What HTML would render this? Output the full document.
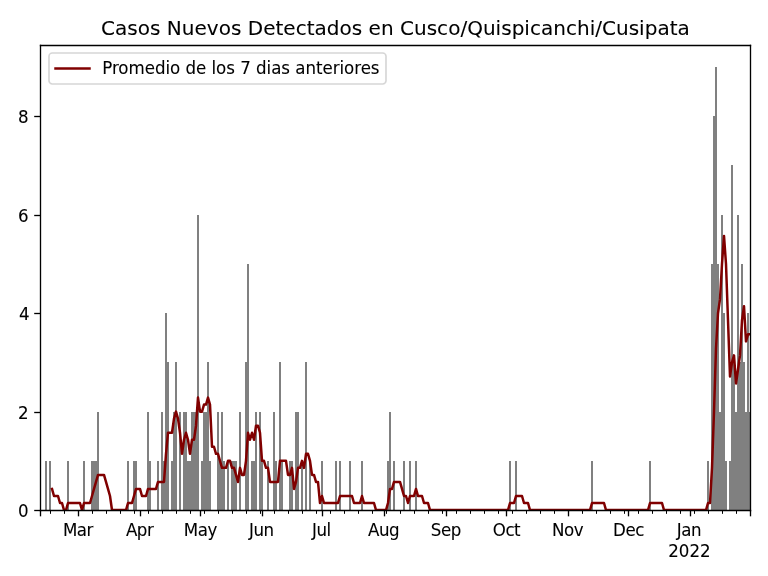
<!DOCTYPE html>
<html lang="es"><head><meta charset="utf-8"><title>Casos Nuevos Detectados en Cusco/Quispicanchi/Cusipata</title>
<style>
html,body{margin:0;padding:0;background:#fff;}
body{width:768px;height:576px;overflow:hidden;}
svg{display:block;}
text{font-family:"DejaVu Sans","Liberation Sans",sans-serif;font-size:16.667px;fill:#000;stroke:#000;stroke-width:0.08px;}
.title{font-size:20px;letter-spacing:0.024px;}
</style></head><body>
<svg width="768" height="576" viewBox="0 0 768 576">
<rect width="768" height="576" fill="#fff"/>
<defs><clipPath id="ax"><rect x="40.5" y="45.5" width="710.0" height="465.0"/></clipPath></defs>
<g clip-path="url(#ax)">
<g fill="#808080" shape-rendering="crispEdges"><rect x="39" y="461" width="2" height="49"/><rect x="45" y="461" width="2" height="49"/><rect x="49" y="461" width="2" height="49"/><rect x="67" y="461" width="2" height="49"/><rect x="83" y="461" width="2" height="49"/><rect x="91" y="461" width="6" height="49"/><rect x="97" y="412" width="2" height="98"/><rect x="127" y="461" width="2" height="49"/><rect x="133" y="461" width="4" height="49"/><rect x="147" y="412" width="2" height="98"/><rect x="149" y="461" width="2" height="49"/><rect x="157" y="461" width="2" height="49"/><rect x="161" y="412" width="2" height="98"/><rect x="163" y="461" width="2" height="49"/><rect x="165" y="313" width="2" height="197"/><rect x="167" y="362" width="2" height="148"/><rect x="171" y="461" width="2" height="49"/><rect x="173" y="412" width="2" height="98"/><rect x="175" y="362" width="2" height="148"/><rect x="179" y="412" width="2" height="98"/><rect x="183" y="412" width="4" height="98"/><rect x="187" y="461" width="4" height="49"/><rect x="191" y="412" width="6" height="98"/><rect x="197" y="215" width="2" height="295"/><rect x="201" y="461" width="2" height="49"/><rect x="203" y="412" width="4" height="98"/><rect x="207" y="362" width="2" height="148"/><rect x="209" y="461" width="2" height="49"/><rect x="217" y="412" width="2" height="98"/><rect x="219" y="461" width="2" height="49"/><rect x="221" y="412" width="2" height="98"/><rect x="223" y="461" width="2" height="49"/><rect x="227" y="461" width="2" height="49"/><rect x="231" y="461" width="6" height="49"/><rect x="239" y="412" width="2" height="98"/><rect x="245" y="362" width="2" height="148"/><rect x="247" y="264" width="2" height="246"/><rect x="251" y="461" width="4" height="49"/><rect x="255" y="412" width="2" height="98"/><rect x="259" y="412" width="2" height="98"/><rect x="261" y="461" width="2" height="49"/><rect x="267" y="461" width="2" height="49"/><rect x="273" y="412" width="2" height="98"/><rect x="275" y="461" width="2" height="49"/><rect x="279" y="362" width="2" height="148"/><rect x="281" y="461" width="2" height="49"/><rect x="289" y="461" width="4" height="49"/><rect x="295" y="412" width="4" height="98"/><rect x="301" y="461" width="2" height="49"/><rect x="305" y="362" width="2" height="148"/><rect x="309" y="461" width="2" height="49"/><rect x="321" y="461" width="2" height="49"/><rect x="335" y="461" width="2" height="49"/><rect x="339" y="461" width="2" height="49"/><rect x="349" y="461" width="2" height="49"/><rect x="361" y="461" width="2" height="49"/><rect x="387" y="461" width="2" height="49"/><rect x="389" y="412" width="2" height="98"/><rect x="393" y="461" width="2" height="49"/><rect x="403" y="461" width="2" height="49"/><rect x="409" y="461" width="2" height="49"/><rect x="415" y="461" width="2" height="49"/><rect x="509" y="461" width="2" height="49"/><rect x="515" y="461" width="2" height="49"/><rect x="591" y="461" width="2" height="49"/><rect x="649" y="461" width="2" height="49"/><rect x="707" y="461" width="2" height="49"/><rect x="711" y="264" width="2" height="246"/><rect x="713" y="116" width="2" height="394"/><rect x="715" y="67" width="2" height="443"/><rect x="717" y="264" width="2" height="246"/><rect x="719" y="412" width="2" height="98"/><rect x="721" y="215" width="2" height="295"/><rect x="723" y="313" width="2" height="197"/><rect x="725" y="461" width="2" height="49"/><rect x="729" y="461" width="2" height="49"/><rect x="731" y="165" width="2" height="345"/><rect x="733" y="362" width="2" height="148"/><rect x="735" y="412" width="2" height="98"/><rect x="737" y="215" width="2" height="295"/><rect x="739" y="362" width="2" height="148"/><rect x="741" y="264" width="2" height="246"/><rect x="743" y="362" width="2" height="148"/><rect x="745" y="412" width="2" height="98"/><rect x="747" y="313" width="2" height="197"/><rect x="749" y="412" width="2" height="98"/></g>
<polyline points="52.00,488.96 54.00,495.99 56.00,495.99 58.00,495.99 60.00,503.02 62.00,503.02 64.00,510.05 66.00,510.05 68.00,503.02 70.00,503.02 72.00,503.02 74.00,503.02 76.00,503.02 78.00,503.02 80.00,503.02 82.00,510.05 84.00,503.02 86.00,503.02 88.00,503.02 90.00,503.02 92.00,495.99 94.00,488.96 96.00,481.93 98.00,474.90 100.00,474.90 102.00,474.90 104.00,474.90 106.00,481.93 108.00,488.96 110.00,495.99 112.00,510.05 114.00,510.05 116.00,510.05 118.00,510.05 120.00,510.05 122.00,510.05 124.00,510.05 126.00,510.05 128.00,503.02 130.00,503.02 132.00,503.02 134.00,495.99 136.00,488.96 138.00,488.96 140.00,488.96 142.00,495.99 144.00,495.99 146.00,495.99 148.00,488.96 150.00,488.96 152.00,488.96 154.00,488.96 156.00,488.96 158.00,481.93 160.00,481.93 162.00,481.93 164.00,481.93 166.00,453.81 168.00,432.73 170.00,432.73 172.00,432.73 174.00,418.67 176.00,411.64 178.00,418.67 180.00,432.73 182.00,453.81 184.00,439.76 186.00,432.73 188.00,439.76 190.00,453.81 192.00,439.76 194.00,439.76 196.00,425.70 198.00,397.58 200.00,411.64 202.00,411.64 204.00,404.61 206.00,404.61 208.00,397.58 210.00,404.61 212.00,446.78 214.00,446.78 216.00,453.81 218.00,453.81 220.00,460.84 222.00,467.87 224.00,467.87 226.00,467.87 228.00,460.84 230.00,460.84 232.00,467.87 234.00,467.87 236.00,474.90 238.00,481.93 240.00,467.87 242.00,474.90 244.00,474.90 246.00,460.84 248.00,432.73 250.00,439.76 252.00,432.73 254.00,439.76 256.00,425.70 258.00,425.70 260.00,432.73 262.00,460.84 264.00,460.84 266.00,467.87 268.00,467.87 270.00,481.93 272.00,481.93 274.00,481.93 276.00,481.93 278.00,481.93 280.00,460.84 282.00,460.84 284.00,460.84 286.00,460.84 288.00,474.90 290.00,474.90 292.00,467.87 294.00,488.96 296.00,481.93 298.00,467.87 300.00,467.87 302.00,460.84 304.00,467.87 306.00,453.81 308.00,453.81 310.00,460.84 312.00,474.90 314.00,474.90 316.00,481.93 318.00,481.93 320.00,503.02 322.00,495.99 324.00,503.02 326.00,503.02 328.00,503.02 330.00,503.02 332.00,503.02 334.00,503.02 336.00,503.02 338.00,503.02 340.00,495.99 342.00,495.99 344.00,495.99 346.00,495.99 348.00,495.99 350.00,495.99 352.00,495.99 354.00,503.02 356.00,503.02 358.00,503.02 360.00,503.02 362.00,495.99 364.00,503.02 366.00,503.02 368.00,503.02 370.00,503.02 372.00,503.02 374.00,503.02 376.00,510.05 378.00,510.05 380.00,510.05 382.00,510.05 384.00,510.05 386.00,510.05 388.00,503.02 390.00,488.96 392.00,488.96 394.00,481.93 396.00,481.93 398.00,481.93 400.00,481.93 402.00,488.96 404.00,495.99 406.00,495.99 408.00,503.02 410.00,495.99 412.00,495.99 414.00,495.99 416.00,488.96 418.00,495.99 420.00,495.99 422.00,495.99 424.00,503.02 426.00,503.02 428.00,503.02 430.00,510.05 432.00,510.05 434.00,510.05 436.00,510.05 438.00,510.05 440.00,510.05 442.00,510.05 444.00,510.05 446.00,510.05 448.00,510.05 450.00,510.05 452.00,510.05 454.00,510.05 456.00,510.05 458.00,510.05 460.00,510.05 462.00,510.05 464.00,510.05 466.00,510.05 468.00,510.05 470.00,510.05 472.00,510.05 474.00,510.05 476.00,510.05 478.00,510.05 480.00,510.05 482.00,510.05 484.00,510.05 486.00,510.05 488.00,510.05 490.00,510.05 492.00,510.05 494.00,510.05 496.00,510.05 498.00,510.05 500.00,510.05 502.00,510.05 504.00,510.05 506.00,510.05 508.00,510.05 510.00,503.02 512.00,503.02 514.00,503.02 516.00,495.99 518.00,495.99 520.00,495.99 522.00,495.99 524.00,503.02 526.00,503.02 528.00,503.02 530.00,510.05 532.00,510.05 534.00,510.05 536.00,510.05 538.00,510.05 540.00,510.05 542.00,510.05 544.00,510.05 546.00,510.05 548.00,510.05 550.00,510.05 552.00,510.05 554.00,510.05 556.00,510.05 558.00,510.05 560.00,510.05 562.00,510.05 564.00,510.05 566.00,510.05 568.00,510.05 570.00,510.05 572.00,510.05 574.00,510.05 576.00,510.05 578.00,510.05 580.00,510.05 582.00,510.05 584.00,510.05 586.00,510.05 588.00,510.05 590.00,510.05 592.00,503.02 594.00,503.02 596.00,503.02 598.00,503.02 600.00,503.02 602.00,503.02 604.00,503.02 606.00,510.05 608.00,510.05 610.00,510.05 612.00,510.05 614.00,510.05 616.00,510.05 618.00,510.05 620.00,510.05 622.00,510.05 624.00,510.05 626.00,510.05 628.00,510.05 630.00,510.05 632.00,510.05 634.00,510.05 636.00,510.05 638.00,510.05 640.00,510.05 642.00,510.05 644.00,510.05 646.00,510.05 648.00,510.05 650.00,503.02 652.00,503.02 654.00,503.02 656.00,503.02 658.00,503.02 660.00,503.02 662.00,503.02 664.00,510.05 666.00,510.05 668.00,510.05 670.00,510.05 672.00,510.05 674.00,510.05 676.00,510.05 678.00,510.05 680.00,510.05 682.00,510.05 684.00,510.05 686.00,510.05 688.00,510.05 690.00,510.05 692.00,510.05 694.00,510.05 696.00,510.05 698.00,510.05 700.00,510.05 702.00,510.05 704.00,510.05 706.00,510.05 708.00,503.02 710.00,503.02 712.00,467.87 714.00,411.64 716.00,348.37 718.00,313.22 720.00,299.17 722.00,264.02 724.00,235.90 726.00,264.02 728.00,320.25 730.00,376.49 732.00,362.43 734.00,355.40 736.00,383.52 738.00,369.46 740.00,355.40 742.00,320.25 744.00,306.20 746.00,341.34 748.00,334.31 750.00,334.31" fill="none" stroke="#800000" stroke-width="2.5" stroke-linejoin="round" stroke-linecap="square"/>
</g>
<g stroke="#000" fill="none"><line x1="40.5" y1="510.5" x2="40.5" y2="516.33" stroke-width="1.333"/><line x1="78.5" y1="510.5" x2="78.5" y2="516.33" stroke-width="1.333"/><line x1="140.5" y1="510.5" x2="140.5" y2="516.33" stroke-width="1.333"/><line x1="200.5" y1="510.5" x2="200.5" y2="516.33" stroke-width="1.333"/><line x1="262.5" y1="510.5" x2="262.5" y2="516.33" stroke-width="1.333"/><line x1="322.5" y1="510.5" x2="322.5" y2="516.33" stroke-width="1.333"/><line x1="384.5" y1="510.5" x2="384.5" y2="516.33" stroke-width="1.333"/><line x1="446.5" y1="510.5" x2="446.5" y2="516.33" stroke-width="1.333"/><line x1="506.5" y1="510.5" x2="506.5" y2="516.33" stroke-width="1.333"/><line x1="568.5" y1="510.5" x2="568.5" y2="516.33" stroke-width="1.333"/><line x1="628.5" y1="510.5" x2="628.5" y2="516.33" stroke-width="1.333"/><line x1="690.5" y1="510.5" x2="690.5" y2="516.33" stroke-width="1.333"/><line x1="750.5" y1="510.5" x2="750.5" y2="516.33" stroke-width="1.333"/><line x1="50.5" y1="510.5" x2="50.5" y2="513.83" stroke-width="1"/><line x1="64.5" y1="510.5" x2="64.5" y2="513.83" stroke-width="1"/><line x1="92.5" y1="510.5" x2="92.5" y2="513.83" stroke-width="1"/><line x1="106.5" y1="510.5" x2="106.5" y2="513.83" stroke-width="1"/><line x1="120.5" y1="510.5" x2="120.5" y2="513.83" stroke-width="1"/><line x1="134.5" y1="510.5" x2="134.5" y2="513.83" stroke-width="1"/><line x1="148.5" y1="510.5" x2="148.5" y2="513.83" stroke-width="1"/><line x1="162.5" y1="510.5" x2="162.5" y2="513.83" stroke-width="1"/><line x1="176.5" y1="510.5" x2="176.5" y2="513.83" stroke-width="1"/><line x1="190.5" y1="510.5" x2="190.5" y2="513.83" stroke-width="1"/><line x1="204.5" y1="510.5" x2="204.5" y2="513.83" stroke-width="1"/><line x1="218.5" y1="510.5" x2="218.5" y2="513.83" stroke-width="1"/><line x1="232.5" y1="510.5" x2="232.5" y2="513.83" stroke-width="1"/><line x1="246.5" y1="510.5" x2="246.5" y2="513.83" stroke-width="1"/><line x1="260.5" y1="510.5" x2="260.5" y2="513.83" stroke-width="1"/><line x1="274.5" y1="510.5" x2="274.5" y2="513.83" stroke-width="1"/><line x1="288.5" y1="510.5" x2="288.5" y2="513.83" stroke-width="1"/><line x1="302.5" y1="510.5" x2="302.5" y2="513.83" stroke-width="1"/><line x1="316.5" y1="510.5" x2="316.5" y2="513.83" stroke-width="1"/><line x1="330.5" y1="510.5" x2="330.5" y2="513.83" stroke-width="1"/><line x1="344.5" y1="510.5" x2="344.5" y2="513.83" stroke-width="1"/><line x1="358.5" y1="510.5" x2="358.5" y2="513.83" stroke-width="1"/><line x1="372.5" y1="510.5" x2="372.5" y2="513.83" stroke-width="1"/><line x1="386.5" y1="510.5" x2="386.5" y2="513.83" stroke-width="1"/><line x1="400.5" y1="510.5" x2="400.5" y2="513.83" stroke-width="1"/><line x1="414.5" y1="510.5" x2="414.5" y2="513.83" stroke-width="1"/><line x1="428.5" y1="510.5" x2="428.5" y2="513.83" stroke-width="1"/><line x1="442.5" y1="510.5" x2="442.5" y2="513.83" stroke-width="1"/><line x1="456.5" y1="510.5" x2="456.5" y2="513.83" stroke-width="1"/><line x1="470.5" y1="510.5" x2="470.5" y2="513.83" stroke-width="1"/><line x1="484.5" y1="510.5" x2="484.5" y2="513.83" stroke-width="1"/><line x1="498.5" y1="510.5" x2="498.5" y2="513.83" stroke-width="1"/><line x1="512.5" y1="510.5" x2="512.5" y2="513.83" stroke-width="1"/><line x1="526.5" y1="510.5" x2="526.5" y2="513.83" stroke-width="1"/><line x1="540.5" y1="510.5" x2="540.5" y2="513.83" stroke-width="1"/><line x1="554.5" y1="510.5" x2="554.5" y2="513.83" stroke-width="1"/><line x1="582.5" y1="510.5" x2="582.5" y2="513.83" stroke-width="1"/><line x1="596.5" y1="510.5" x2="596.5" y2="513.83" stroke-width="1"/><line x1="610.5" y1="510.5" x2="610.5" y2="513.83" stroke-width="1"/><line x1="624.5" y1="510.5" x2="624.5" y2="513.83" stroke-width="1"/><line x1="638.5" y1="510.5" x2="638.5" y2="513.83" stroke-width="1"/><line x1="652.5" y1="510.5" x2="652.5" y2="513.83" stroke-width="1"/><line x1="666.5" y1="510.5" x2="666.5" y2="513.83" stroke-width="1"/><line x1="680.5" y1="510.5" x2="680.5" y2="513.83" stroke-width="1"/><line x1="694.5" y1="510.5" x2="694.5" y2="513.83" stroke-width="1"/><line x1="708.5" y1="510.5" x2="708.5" y2="513.83" stroke-width="1"/><line x1="722.5" y1="510.5" x2="722.5" y2="513.83" stroke-width="1"/><line x1="736.5" y1="510.5" x2="736.5" y2="513.83" stroke-width="1"/><line x1="40.5" y1="510.5" x2="34.2" y2="510.5" stroke-width="1.333"/><line x1="40.5" y1="412.5" x2="34.2" y2="412.5" stroke-width="1.333"/><line x1="40.5" y1="313.5" x2="34.2" y2="313.5" stroke-width="1.333"/><line x1="40.5" y1="215.5" x2="34.2" y2="215.5" stroke-width="1.333"/><line x1="40.5" y1="116.5" x2="34.2" y2="116.5" stroke-width="1.333"/></g>
<g stroke="#000" stroke-width="1.333" fill="none" stroke-linecap="square">
<line x1="40.5" y1="45.5" x2="40.5" y2="510.5"/><line x1="750.5" y1="45.5" x2="750.5" y2="510.5"/>
<line x1="40.5" y1="510.5" x2="750.5" y2="510.5"/><line x1="40.5" y1="45.5" x2="750.5" y2="45.5"/>
</g>
<g><text transform="matrix(1 0 0 1.0833 28.60 517.30)" text-anchor="end">0</text><text transform="matrix(1 0 0 1.0833 28.60 418.89)" text-anchor="end">2</text><text transform="matrix(1 0 0 1.0833 29.50 320.47)" text-anchor="end">4</text><text transform="matrix(1 0 0 1.0833 28.50 222.06)" text-anchor="end">6</text><text transform="matrix(1 0 0 1.0833 28.60 122.65)" text-anchor="end">8</text></g>
<g><text transform="matrix(1 0 0 1.0833 77.93 536.00)" text-anchor="middle" style="letter-spacing:-0.45px">Mar</text><text transform="matrix(1 0 0 1.0833 139.66 536.00)" text-anchor="middle" style="letter-spacing:-0.45px">Apr</text><text transform="matrix(1 0 0 1.0833 200.37 536.00)" text-anchor="middle" style="letter-spacing:-0.45px">May</text><text transform="matrix(1 0 0 1.0833 261.37 536.00)" text-anchor="middle" style="letter-spacing:-0.45px">Jun</text><text transform="matrix(1 0 0 1.0833 321.35 536.00)" text-anchor="middle" style="letter-spacing:-0.45px">Jul</text><text transform="matrix(1 0 0 1.0833 383.55 536.00)" text-anchor="middle" style="letter-spacing:-0.45px">Aug</text><text transform="matrix(1 0 0 1.0833 445.80 536.00)" text-anchor="middle" style="letter-spacing:-0.45px">Sep</text><text transform="matrix(1 0 0 1.0833 506.45 536.00)" text-anchor="middle" style="letter-spacing:-0.45px">Oct</text><text transform="matrix(1 0 0 1.0833 567.62 536.00)" text-anchor="middle" style="letter-spacing:-0.45px">Nov</text><text transform="matrix(1 0 0 1.0833 628.49 536.00)" text-anchor="middle" style="letter-spacing:-0.45px">Dec</text><text transform="matrix(1 0 0 1.0833 689.00 536.00)" text-anchor="middle" style="letter-spacing:-0.45px">Jan</text><text transform="matrix(1 0 0 1.0833 689.46 557.00)" text-anchor="middle">2022</text></g>
<text class="title" transform="matrix(1 0 0 1.0005 395.4 35.3)" text-anchor="middle">Casos Nuevos Detectados en Cusco/Quispicanchi/Cusipata</text>
<rect x="49" y="53" width="337" height="31" rx="3.33" ry="3.33" fill="#fff" fill-opacity="0.8" stroke="#ccc" stroke-opacity="0.8" stroke-width="1.667"/>
<line x1="55.5" y1="68.5" x2="89.5" y2="68.5" stroke="#800000" stroke-width="2.5" stroke-linecap="square"/>
<text transform="matrix(1 0 0 1.0833 102.20 74.00)" text-anchor="start" style="letter-spacing:-0.03px">Promedio de los 7 dias anteriores</text>
</svg>
</body></html>
